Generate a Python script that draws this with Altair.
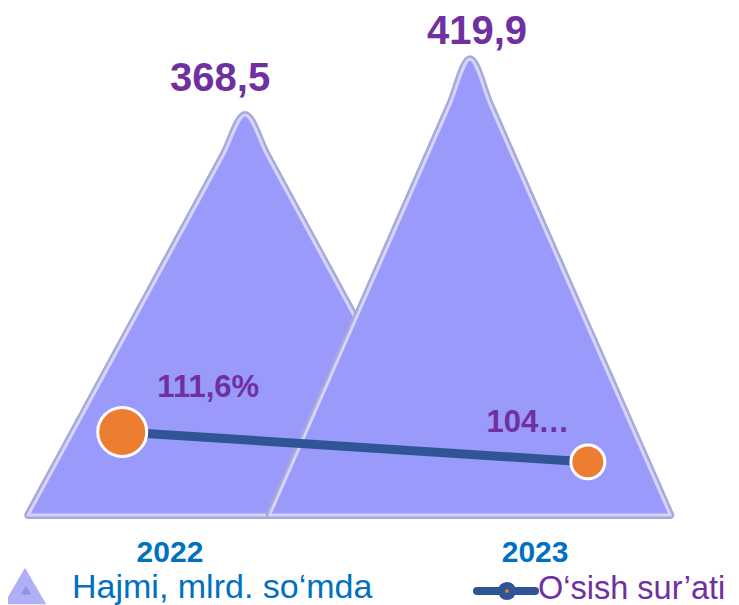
import altair as alt
import pandas as pd

# ---- data ----
years = ["2022", "2023"]
volume = [368.5, 419.9]
growth = [111.6, 104.2]
volume_labels = ["368,5", "419,9"]
growth_labels = ["111,6%", "104…"]
legend_labels = ["Hajmi, mlrd. so‘mda", "O‘sish sur’ati"]

df = pd.DataFrame({
    "year": years,
    "idx": list(range(len(years))),
    "volume": volume,
    "growth": growth,
    "vlabel": volume_labels,
    "glabel": growth_labels,
})

W, H = 723, 507
FONT = "Liberation Sans"
PURPLE = "#7030a0"
BLUE = "#0070c0"
LINE = "#2f5597"
ORANGE = "#ed7d31"

xs = alt.Scale(domain=[0, 1], nice=False, zero=False)
yv = alt.Scale(domain=[0, 467], nice=False)
yg = alt.Scale(domain=[91.1, 216.2], nice=False, zero=False)

base = alt.Chart(df)

# cone outline: profile parameter t along the base (layout only)
cone_geo = base.transform_calculate(
    t="[-1, -0.1, 0, 0.1, 1]"
).transform_flatten(["t"]).transform_calculate(
    cx="0.328 + 0.311 * datum.idx",
    hw="datum.idx == 0 ? 0.300 : 0.277",
    px="datum.cx + datum.t * datum.hw",
    py="datum.volume * (1 - abs(datum.t))",
)

layers = []
for i in range(len(years)):
    g = cone_geo.transform_filter(f"datum.idx == {i}")
    enc = dict(
        x=alt.X("px:Q", scale=xs, axis=None),
        y=alt.Y("py:Q", scale=yv, axis=None, stack=None),
        y2=alt.datum(0),
    )
    layers.append(g.mark_area(interpolate="monotone", fill="#a4a4dc", fillOpacity=0,
                              stroke="#a9a9d8", strokeWidth=8, strokeJoin="round").encode(**enc))
    layers.append(g.mark_area(interpolate="monotone", fill="#9a9afb", fillOpacity=1,
                              stroke="#d4d4fd", strokeWidth=3, strokeJoin="round").encode(**enc))

# growth line
line_base = base.transform_calculate(lx="0.158 + 0.644 * datum.idx")
layers.append(line_base.mark_line(color=LINE, strokeWidth=9).encode(
    x=alt.X("lx:Q", scale=xs, axis=None),
    y=alt.Y("growth:Q", scale=yg, axis=None),
))
pt_sizes = [2400, 1150]
for i in range(len(years)):
    layers.append(line_base.transform_filter(f"datum.idx == {i}").mark_point(
        shape="circle", filled=True, fill=ORANGE, fillOpacity=1, stroke="white",
        strokeWidth=3, size=pt_sizes[i], opacity=1).encode(
        x=alt.X("lx:Q", scale=xs, axis=None),
        y=alt.Y("growth:Q", scale=yg, axis=None),
    ))

# growth labels
g_off = [(86, -35), (-60, -30)]
for i in range(len(years)):
    layers.append(line_base.transform_filter(f"datum.idx == {i}").mark_text(
        font=FONT, fontSize=31, fontWeight="bold", color=PURPLE,
        align="center", baseline="alphabetic", dx=g_off[i][0], dy=g_off[i][1]).encode(
        x=alt.X("lx:Q", scale=xs, axis=None),
        y=alt.Y("growth:Q", scale=yg, axis=None),
        text="glabel:N",
    ))

# volume labels above cones
v_off = [(-25, -24), (7, -15)]
vbase = base.transform_calculate(cx="0.328 + 0.311 * datum.idx")
for i in range(len(years)):
    layers.append(vbase.transform_filter(f"datum.idx == {i}").mark_text(
        font=FONT, fontSize=40, fontWeight="bold", color=PURPLE,
        align="center", baseline="alphabetic", dx=v_off[i][0], dy=v_off[i][1]).encode(
        x=alt.X("cx:Q", scale=xs, axis=None),
        y=alt.Y("volume:Q", scale=yv, axis=None),
        text="vlabel:N",
    ))

# year labels (category axis)
layers.append(base.transform_calculate(yx="0.224 + 0.505 * datum.idx").mark_text(
    font=FONT, fontSize=30, fontWeight="bold", color=BLUE,
    align="center", baseline="alphabetic").encode(
    x=alt.X("yx:Q", scale=xs, axis=None),
    y=alt.value(554),
    text="year:N",
))

# legend
leg = pd.DataFrame({"label": legend_labels, "k": [0, 1]})
lg = alt.Chart(leg)
layers.append(lg.transform_filter("datum.k == 0").mark_point(
    shape="triangle-up", filled=True, fill="#a7a7f6", opacity=0.9, size=1800).encode(
    x=alt.value(17), y=alt.value(578)))
layers.append(lg.transform_filter("datum.k == 0").mark_point(
    shape="triangle-up", filled=True, fill="#8585e0", opacity=0.7, size=110).encode(
    x=alt.value(18), y=alt.value(582)))
layers.append(lg.transform_filter("datum.k == 0").mark_text(
    font=FONT, fontSize=34, color=BLUE, align="left", baseline="alphabetic").encode(
    x=alt.value(64), y=alt.value(590), text="label:N"))
layers.append(lg.transform_filter("datum.k == 1").mark_rule(
    color=LINE, strokeWidth=8, strokeCap="round").encode(
    x=alt.value(469), x2=alt.value(527), y=alt.value(583)))
layers.append(lg.transform_filter("datum.k == 1").mark_point(
    shape="circle", filled=True, fill=LINE, opacity=1, size=330).encode(
    x=alt.value(499), y=alt.value(583)))
layers.append(lg.transform_filter("datum.k == 1").mark_point(
    shape="circle", filled=True, fill=ORANGE, opacity=1, size=14).encode(
    x=alt.value(499), y=alt.value(583)))
layers.append(lg.transform_filter("datum.k == 1").mark_text(
    font=FONT, fontSize=32.5, color=PURPLE, align="left", baseline="alphabetic").encode(
    x=alt.value(530), y=alt.value(591), text="label:N"))

chart = alt.layer(*layers).resolve_scale(y="independent").properties(
    width=W, height=H,
    padding={"left": 0, "top": 0, "right": 0, "bottom": 90},
    autosize=alt.AutoSizeParams(type="none"),
    background="white",
).configure_view(stroke=None)

chart.save("out.html", embed_options={"renderer": "svg", "actions": False})
